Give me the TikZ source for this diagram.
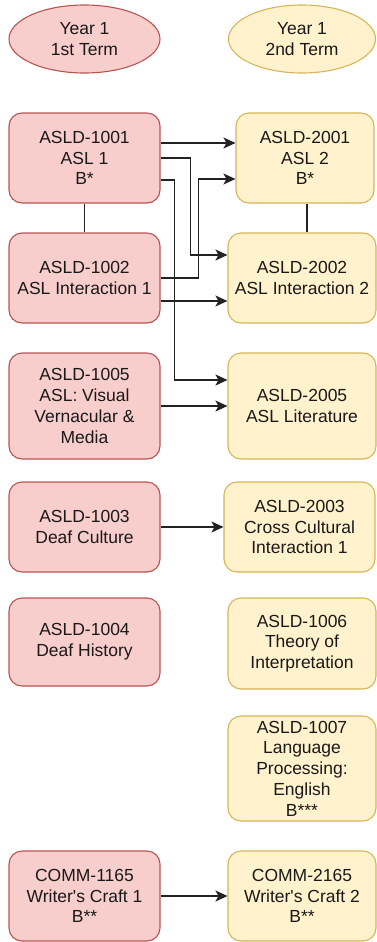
\documentclass[tikz,border=0pt]{standalone}
\usepackage{fontspec}
\setmainfont{Liberation Sans}
\usepackage{tikz}
\usetikzlibrary{arrows.meta}
\usetikzlibrary{shapes.geometric}
\definecolor{redfill}{HTML}{F8CECC}
\definecolor{redline}{HTML}{B85450}
\definecolor{yellowfill}{HTML}{FFF2CC}
\definecolor{yellowline}{HTML}{D6B656}
\definecolor{wire}{HTML}{222222}
\tikzset{
    course/.style={
        rounded corners=13pt, line width=1.1pt, align=center,
        minimum height=90pt, inner sep=2pt,
        font=\fontsize{17.5}{20.8}\selectfont, text=black!90
    },
    redbox/.style={course, draw=redline, fill=redfill, minimum width=151pt},
    yellowbox/.style={course, draw=yellowline, fill=yellowfill, minimum width=148pt},
    term/.style={
        ellipse, line width=1.1pt, align=center, inner sep=0pt,
        minimum height=68pt, font=\fontsize{17.5}{20.8}\selectfont, text=black!90
    },
    prereq/.style={draw=wire, line width=1.2pt,
        -{Stealth[length=12pt, width=11pt, inset=3pt]}},
    coreq/.style={draw=wire, line width=1.2pt},
}

\begin{document}
\begin{tikzpicture}[x=1pt, y=-1pt]
\useasboundingbox (0,0) rectangle (377,942);
\node[term, draw=redline, fill=redfill, minimum width=151pt] (t1) at (84.5,39) {Year 1\\1st Term};
\node[term, draw=yellowline, fill=yellowfill, minimum width=147pt] (t2) at (302,39) {Year 1\\2nd Term};

\node[redbox] (a1001) at (84.5,158) {ASLD-1001\\ASL 1\\B*};
\node[redbox] (a1002) at (84.5,278) {ASLD-1002\\ASL Interaction 1};
\node[redbox, minimum height=106pt] (a1005) at (84.5,406) {ASLD-1005\\ASL: Visual\\Vernacular \&\\Media};
\node[redbox] (a1003) at (84.5,527) {ASLD-1003\\Deaf Culture};
\node[redbox, minimum height=88pt] (a1004) at (84.5,642) {ASLD-1004\\Deaf History};
\node[redbox] (c1165) at (84.5,896) {COMM-1165\\Writer\textquotesingle s Craft 1\\B**};

\node[yellowbox, minimum width=138pt] (a2001) at (305,158) {ASLD-2001\\ASL 2\\B*};
\node[yellowbox] (a2002) at (302,278) {ASLD-2002\\ASL Interaction 2};
\node[yellowbox, minimum height=106pt] (a2005) at (302,406) {ASLD-2005\\ASL Literature};
\node[yellowbox, minimum width=151pt] (a2003) at (299.5,527) {ASLD-2003\\Cross Cultural\\Interaction 1};
\node[yellowbox, minimum height=91pt] (a1006) at (302,643.5) {ASLD-1006\\Theory of\\Interpretation};
\node[yellowbox, minimum height=105pt] (a1007) at (302,768.5) {ASLD-1007\\Language\\Processing:\\English\\B***};
\node[yellowbox] (c2165) at (302,896) {COMM-2165\\Writer\textquotesingle s Craft 2\\B**};

\draw[coreq] (a1001.south) -- (a1002.north);
\draw[coreq] ([xshift=2pt]a2001.south) -- ([xshift=2pt]a2001.south |- a2002.north);

\draw[prereq] ([yshift=15pt]a1001.east) -- ([yshift=15pt]a2001.west);
\draw[prereq] (a1001.east) -- ++(30,0) |- ([yshift=23pt]a2002.west);
\draw[prereq] ([yshift=-22pt]a1001.east) -- ++(14,0) |- ([yshift=26pt]a2005.west);
\draw[prereq] (a1002.east) -- ++(38,0) |- ([yshift=-21pt]a2001.west);
\draw[prereq] ([yshift=-23pt]a1002.east) -- ([yshift=-23pt]a2002.west);
\draw[prereq] (a1005.east) -- (a2005.west);
\draw[prereq] (a1003.east) -- (a2003.west);
\draw[prereq] (c1165.east) -- (c2165.west);
\end{tikzpicture}
\end{document}
